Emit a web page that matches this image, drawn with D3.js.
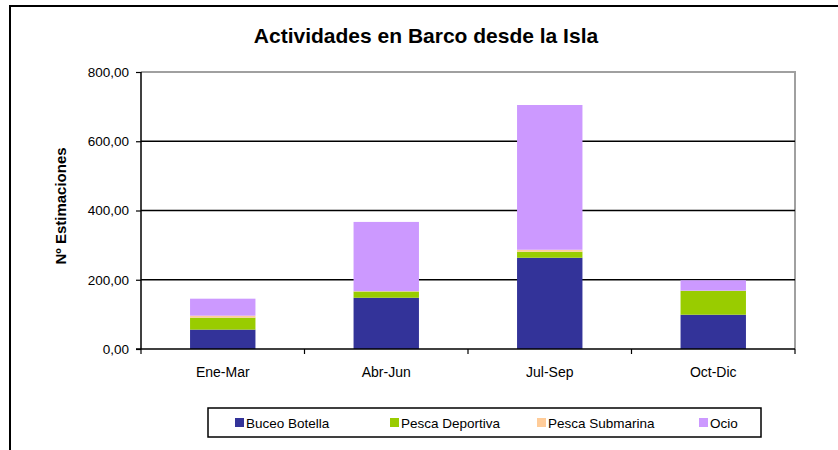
<!DOCTYPE html>
<html><head><meta charset="utf-8">
<script src="https://cdn.jsdelivr.net/npm/d3@7"></script>
<style>body{margin:0;background:#fff}svg{display:block}text{font-family:"Liberation Sans",Arial,sans-serif}</style>
</head><body><svg id="c" width="838" height="450"></svg>
<script>
const categories = ["Ene-Mar","Abr-Jun","Jul-Sep","Oct-Dic"];
const seriesNames = ["Buceo Botella","Pesca Deportiva","Pesca Submarina","Ocio"];
const buceoBotella = [56, 148, 263.5, 99];
const pescaDeportiva = [34.5, 18, 17.5, 69];
const pescaSubmarina = [5.8, 1, 5.7, 0.5];
const ocio = [49, 200, 418, 30];
const yTicks = [0,200,400,600,800];
const colors = ["#333399","#99cc00","#ffcc99","#cc99ff"];

const svg = d3.select("#c");
const m = {l:141, r:795, t:72, b:349};
const x = d3.scaleBand().domain(categories).range([m.l, m.r]).paddingInner(0.6).paddingOuter(0.3);
const xb = d3.scaleBand().domain(categories).range([m.l, m.r]);
const y = d3.scaleLinear().domain([0,800]).range([m.b, m.t]);

// outer border
svg.append("rect").attr("x",10).attr("y",6).attr("width",840).attr("height",460)
  .attr("fill","#fff").attr("stroke","#000").attr("stroke-width",2);

// title
svg.append("text").attr("x",426).attr("y",43).attr("text-anchor","middle")
  .attr("font-size",21).attr("font-weight","bold").text("Actividades en Barco desde la Isla");

// plot frame (top/right gray)
svg.append("path").attr("d",`M${m.l},${m.t}H${m.r}V${m.b}`).attr("fill","none")
  .attr("stroke","#a0a0a0").attr("stroke-width",2);

// gridlines
svg.append("g").selectAll("line").data(yTicks.filter(d=>d>0&&d<800)).join("line")
  .attr("x1",m.l).attr("x2",m.r).attr("y1",d=>y(d)).attr("y2",d=>y(d))
  .attr("stroke","#000").attr("stroke-width",1.5);

// stacked bars
const data = categories.map((c,i)=>({cat:c,"Buceo Botella":buceoBotella[i],"Pesca Deportiva":pescaDeportiva[i],"Pesca Submarina":pescaSubmarina[i],"Ocio":ocio[i]}));
const stack = d3.stack().keys(seriesNames)(data);
svg.append("g").selectAll("g").data(stack).join("g").attr("fill",(d,i)=>colors[i])
  .selectAll("rect").data(d=>d).join("rect")
  .attr("x",d=>x(d.data.cat)).attr("width",x.bandwidth())
  .attr("y",d=>y(d[1])).attr("height",d=>Math.max(0,y(d[0])-y(d[1])));

// y axis
const ya = svg.append("g").attr("transform",`translate(${m.l},0)`)
  .call(d3.axisLeft(y).tickValues(yTicks).tickSize(5).tickPadding(7)
    .tickFormat(d=>d3.format(".2f")(d).replace(".",",")));
ya.select(".domain").attr("stroke","#000").attr("stroke-width",1.5).attr("d",`M0,${m.t}V${m.b}`);
ya.selectAll(".tick line").attr("stroke","#000").attr("stroke-width",1.2);
ya.selectAll("text").attr("font-size",13.5).attr("fill","#000").attr("font-family","Liberation Sans, Arial, sans-serif");

// x axis
const xa = svg.append("g").attr("transform",`translate(0,${m.b})`);
xa.append("line").attr("x1",m.l-5).attr("x2",m.r).attr("stroke","#000").attr("stroke-width",1.5);
const bounds = categories.map(c=>xb(c)).concat([m.r]);
xa.selectAll(".tk").data(bounds).join("line").attr("class","tk")
  .attr("x1",d=>d).attr("x2",d=>d).attr("y1",0).attr("y2",5).attr("stroke","#000").attr("stroke-width",1.2);
xa.selectAll(".lb").data(categories).join("text").attr("class","lb")
  .attr("x",d=>xb(d)+xb.bandwidth()/2).attr("y",28).attr("text-anchor","middle")
  .attr("font-size",14).text(d=>d);

// y title
svg.append("text").attr("transform","translate(66,206) rotate(-90)").attr("text-anchor","middle")
  .attr("font-size",15).attr("font-weight","bold").text("Nº Estimaciones");

// legend
const lg = svg.append("g");
lg.append("rect").attr("x",208).attr("y",408).attr("width",553).attr("height",29)
  .attr("fill","#fff").attr("stroke","#000").attr("stroke-width",1.5);
const lx = [235, 390, 537, 699];
seriesNames.forEach((s,i)=>{
  lg.append("rect").attr("x",lx[i]).attr("y",418).attr("width",9).attr("height",9).attr("fill",colors[i]);
  lg.append("text").attr("x",lx[i]+11).attr("y",427.5).attr("font-size",13.5).text(s);
});
</script></body></html>
